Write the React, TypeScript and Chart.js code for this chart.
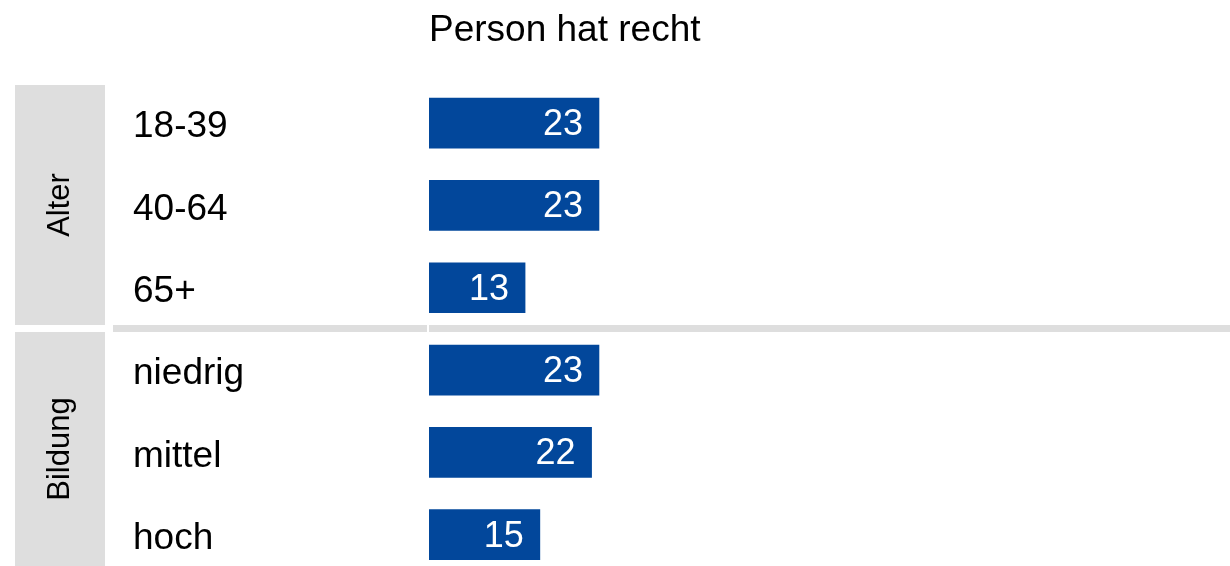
import React, { useEffect, useRef } from "react";
import { Chart, registerables } from "chart.js";

Chart.register(...registerables);

const title = "Person hat recht";
const groups = ["Alter", "Bildung"];
const categories = ["18-39", "40-64", "65+", "niedrig", "mittel", "hoch"];
const groupIndex = [0, 0, 0, 1, 1, 1];
const values = [23, 23, 13, 23, 22, 15];

const FONT = "'Liberation Sans', Arial, sans-serif";
const BAR = "#02479b";
const GREY = "#dedede";

const decorPlugin = {
  id: "decor",
  beforeDraw(chart: any) {
    const { ctx, chartArea, scales } = chart;
    const y = scales.y;
    const W = chart.width;
    const H = chart.height;
    ctx.save();
    const bounds: { start: number; end: number }[] = [];
    groups.forEach((_, g) => {
      const idx = groupIndex.map((v, i) => (v === g ? i : -1)).filter((i) => i >= 0);
      bounds.push({ start: idx[0], end: idx[idx.length - 1] });
    });
    const sepTop: number[] = [];
    for (let g = 0; g < bounds.length - 1; g++) {
      const mid = (y.getPixelForValue(bounds[g].end) + y.getPixelForValue(bounds[g + 1].start)) / 2;
      sepTop.push(Math.round(mid - 3.5));
    }
    ctx.fillStyle = GREY;
    sepTop.forEach((t) => {
      ctx.fillRect(113, t, chartArea.left - 2 - 113, 7);
      ctx.fillRect(chartArea.left, t, W - chartArea.left, 7);
    });
    bounds.forEach((b, g) => {
      const top = g === 0 ? chartArea.top + 3 : sepTop[g - 1] + 7;
      const bottom = g === bounds.length - 1 ? H : sepTop[g];
      const visBottom = g === bounds.length - 1 ? 566 : bottom;
      ctx.fillStyle = GREY;
      ctx.fillRect(15, top, 90, bottom - top);
      ctx.save();
      ctx.translate(60, (top + visBottom) / 2);
      ctx.rotate(-Math.PI / 2);
      ctx.fillStyle = "#000";
      ctx.font = `31px ${FONT}`;
      ctx.textAlign = "center";
      ctx.textBaseline = "middle";
      ctx.fillText(groups[g], 0, 0);
      ctx.restore();
    });
    ctx.fillStyle = "#000";
    ctx.font = `37px ${FONT}`;
    ctx.textAlign = "left";
    ctx.textBaseline = "alphabetic";
    ctx.fillText(title, chartArea.left, 41);
    ctx.restore();
  },
  afterDatasetsDraw(chart: any) {
    const { ctx } = chart;
    const meta = chart.getDatasetMeta(0);
    ctx.save();
    ctx.fillStyle = "#fff";
    ctx.font = `36px ${FONT}`;
    ctx.textAlign = "right";
    ctx.textBaseline = "middle";
    meta.data.forEach((el: any, i: number) => {
      ctx.fillText(String(values[i]), el.x - 16, el.y + 2);
    });
    ctx.restore();
  },
};

export default function App() {
  const ref = useRef<HTMLCanvasElement | null>(null);
  useEffect(() => {
    if (!ref.current) return;
    const chart = new Chart(ref.current, {
      type: "bar",
      data: {
        labels: categories,
        datasets: [
          {
            data: values,
            backgroundColor: BAR,
            borderWidth: 0,
            barThickness: 50,
          },
        ],
      },
      options: {
        indexAxis: "y",
        responsive: true,
        maintainAspectRatio: false,
        animation: false,
        devicePixelRatio: 1,
        layout: { padding: { left: 133, top: 82, bottom: 0, right: 62 } },
        plugins: {
          legend: { display: false },
          title: { display: false },
          tooltip: { enabled: false },
        },
        scales: {
          x: {
            display: false,
            min: 0,
            max: 100,
          },
          y: {
            grid: { display: false },
            border: { display: false },
            ticks: {
              crossAlign: "far",
              padding: 0,
              labelOffset: 4,
              color: "#000",
              font: { family: FONT, size: 37 },
            },
            afterFit(scale: any) {
              scale.width = 296;
            },
          },
        },
      },
      plugins: [decorPlugin],
    } as any);
    return () => chart.destroy();
  }, []);
  return (
    <div style={{ position: "fixed", left: 0, top: 0, width: 1230, height: 566, overflow: "hidden", background: "#fff" }}>
      <div style={{ position: "relative", width: 1230, height: 598 }}>
        <canvas ref={ref} />
      </div>
    </div>
  );
}
